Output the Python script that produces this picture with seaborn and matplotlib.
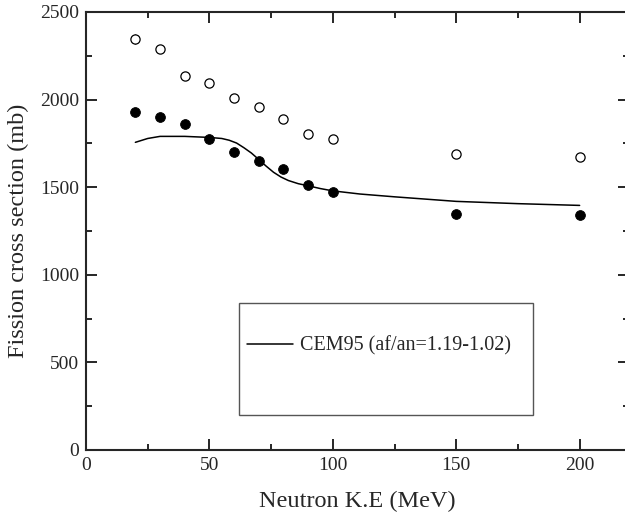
import matplotlib
matplotlib.use("Agg")
import matplotlib.pyplot as plt
from matplotlib.ticker import MultipleLocator
from matplotlib.patches import Rectangle
import seaborn as sns
import pandas as pd

# data
energy = [20, 30, 40, 50, 60, 70, 80, 90, 100, 150, 200]
sigma_open = [2346, 2287, 2135, 2093, 2007, 1958, 1889, 1802, 1775, 1688, 1670]
err_open = [28, 22, 14, 14, 12, 12, 14, 14, 14, 16, 10]
sigma_filled = [1931, 1902, 1861, 1773, 1703, 1651, 1602, 1511, 1473, 1347, 1341]

cem_energy = [20, 25, 30, 40, 50, 55, 58, 61, 64, 67, 70, 73, 76, 79, 82, 86, 90, 95, 100, 111, 125, 150, 175, 200]
cem_sigma = [1756, 1778, 1790, 1790, 1784, 1778, 1768, 1752, 1725, 1695, 1658, 1620, 1585, 1558, 1538, 1520, 1508, 1492, 1479, 1461, 1445, 1419, 1406, 1396]

df_open = pd.DataFrame({"E": energy, "s": sigma_open})
df_fill = pd.DataFrame({"E": energy, "s": sigma_filled})
df_cem = pd.DataFrame({"E": cem_energy, "s": cem_sigma})

sns.set_style("ticks")
plt.rcParams['font.family'] = ['Liberation Serif', 'DejaVu Serif']

fig = plt.figure(figsize=(6.25, 5.21), dpi=100)
ax = fig.add_axes([0.1376, 0.1363, 0.8688, 0.8407])

sns.lineplot(data=df_cem, x="E", y="s", color="black", lw=1.1, ax=ax,
             label="CEM95 (af/an=1.19-1.02)", zorder=2)
ax.errorbar(energy, sigma_open, yerr=err_open, fmt="none", ecolor="black", elinewidth=0.8, zorder=2)
sns.scatterplot(data=df_open, x="E", y="s", marker="o", s=44, facecolor="white",
                edgecolor="black", linewidth=0.9, ax=ax, zorder=3, legend=False)
sns.scatterplot(data=df_fill, x="E", y="s", marker="o", s=50, color="black",
                edgecolor="black", ax=ax, zorder=3, legend=False)

ax.set_xlim(0, 220)
ax.set_ylim(0, 2500)
ax.xaxis.set_major_locator(MultipleLocator(50))
ax.xaxis.set_minor_locator(MultipleLocator(25))
ax.yaxis.set_major_locator(MultipleLocator(500))
ax.yaxis.set_minor_locator(MultipleLocator(250))
ax.tick_params(which="both", direction="in", top=True, right=True, labelsize=14, width=1.4)
ax.tick_params(which="major", length=8, pad=5)
ax.tick_params(which="minor", length=4)
for sp in ax.spines.values():
    sp.set_linewidth(1.5)

ax.set_xlabel("Neutron K.E (MeV)", fontsize=17.5, labelpad=12)
ax.set_ylabel("Fission cross section (mb)", fontsize=17.5, labelpad=8)

# legend frame
ax.add_patch(Rectangle((0.2818, 0.0799), 0.5412, 0.2557, transform=ax.transAxes,
                       fill=False, edgecolor="#555555", lw=1.0, zorder=4))
ax.legend(loc="center left", bbox_to_anchor=(0.2965, 0.2374), frameon=False,
          fontsize=14.5, handlelength=2.3, handletextpad=0.35, borderpad=0, borderaxespad=0)

fig.savefig("out.png", dpi=100)
